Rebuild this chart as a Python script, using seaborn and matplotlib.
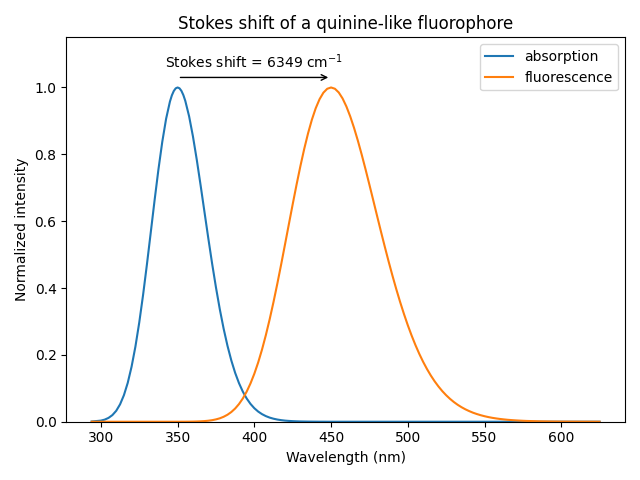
import numpy as np
import pandas as pd
import matplotlib
matplotlib.use("Agg")
import matplotlib.pyplot as plt
import seaborn as sns

# ------------------------------------------------------------
# Spectra (normalized, peak = 1)
# ------------------------------------------------------------
wavelength_nm = [
    294,
    300, 302.5, 305, 307.5, 310, 312.5, 315, 317.5, 320, 322.5,
    325, 327.5, 330, 332.5, 335, 337.5, 340, 342.5, 345, 346.25,
    347.5, 348.75, 350, 351.25, 352.5, 353.75,
    355, 357.5, 360, 362.5, 365, 367.5, 370, 372.5,
    375, 377.5, 380, 382.5, 385, 387.5, 390, 392.5, 395, 397.5,
    400, 402.5, 405, 407.5, 410, 412.5, 415, 417.5, 420, 422.5,
    425, 427.5, 430, 432.5, 435, 437.5, 440, 442.5, 445, 447.5,
    450, 452.5, 455, 457.5, 460, 462.5, 465, 467.5, 470, 472.5,
    475, 477.5, 480, 482.5, 485, 487.5, 490, 492.5, 495, 497.5,
    500, 502.5, 505, 507.5, 510, 512.5, 515, 517.5, 520, 522.5,
    525, 527.5, 530, 532.5, 535, 537.5, 540, 542.5, 545, 547.5,
    550, 552.5, 555, 557.5, 560, 562.5, 565, 567.5, 570, 572.5,
    575, 577.5, 580,
    585, 590, 595, 600, 605, 610, 615, 620, 625,
]

absorption = [
    0.0006,
    0.0033, 0.0063, 0.0115, 0.0198, 0.0327, 0.0520, 0.0793, 0.1163, 0.1646, 0.2247,
    0.2967, 0.3794, 0.4705, 0.5662, 0.6626, 0.7546, 0.8372, 0.9062, 0.9578, 0.9763,
    0.9894, 0.9974, 1.0000, 0.9974, 0.9897, 0.9772,
    0.9601, 0.9136, 0.8535, 0.7834, 0.7070, 0.6278, 0.5489, 0.4728,
    0.4016, 0.3364, 0.2782, 0.2272, 0.1833, 0.1462, 0.1154, 0.0901, 0.0696, 0.0533,
    0.0404, 0.0304, 0.0227, 0.0168, 0.0123, 0.0090, 0.0065, 0.0047, 0.0033, 0.0024,
    0.0017, 0.0012, 0.0008, 0.0006, 0.0004, 0.0003, 0.0002, 0.0001, 0.0001, 0.0,
    0.0, 0.0, 0.0, 0.0, 0.0, 0.0, 0.0, 0.0, 0.0, 0.0,
    0.0, 0.0, 0.0, 0.0, 0.0, 0.0, 0.0, 0.0, 0.0, 0.0,
    0.0, 0.0, 0.0, 0.0, 0.0, 0.0, 0.0, 0.0, 0.0, 0.0,
    0.0, 0.0, 0.0, 0.0, 0.0, 0.0, 0.0, 0.0, 0.0, 0.0,
    0.0, 0.0, 0.0, 0.0, 0.0, 0.0, 0.0, 0.0, 0.0, 0.0,
    0.0, 0.0, 0.0,
    0.0, 0.0, 0.0, 0.0, 0.0, 0.0, 0.0, 0.0, 0.0,
]

fluorescence = [
    0.0,
    0.0, 0.0, 0.0, 0.0, 0.0, 0.0, 0.0, 0.0, 0.0, 0.0,
    0.0, 0.0, 0.0, 0.0, 0.0, 0.0, 0.0, 0.0, 0.0, 0.0,
    0.0, 0.0, 0.0, 0.0, 0.0001, 0.0001,
    0.0001, 0.0002, 0.0004, 0.0007, 0.0012, 0.0019, 0.0030, 0.0046,
    0.0070, 0.0102, 0.0148, 0.0209, 0.0290, 0.0395, 0.0529, 0.0696, 0.0900, 0.1146,
    0.1436, 0.1773, 0.2158, 0.2590, 0.3067, 0.3583, 0.4134, 0.4711, 0.5307, 0.5909,
    0.6507, 0.7089, 0.7644, 0.8160, 0.8627, 0.9036, 0.9379, 0.9649, 0.9844, 0.9961,
    1.0000, 0.9962, 0.9851, 0.9672, 0.9430, 0.9133, 0.8788, 0.8403, 0.7986, 0.7546,
    0.7089, 0.6624, 0.6156, 0.5692, 0.5238, 0.4796, 0.4371, 0.3966, 0.3583, 0.3224,
    0.2888, 0.2578, 0.2292, 0.2030, 0.1792, 0.1577, 0.1383, 0.1209, 0.1054, 0.0915,
    0.0793, 0.0685, 0.0590, 0.0507, 0.0435, 0.0372, 0.0318, 0.0270, 0.0230, 0.0195,
    0.0165, 0.0139, 0.0117, 0.0099, 0.0083, 0.0070, 0.0058, 0.0049, 0.0041, 0.0034,
    0.0028, 0.0023, 0.0020,
    0.0013, 0.0009, 0.0006, 0.0004, 0.0003, 0.0002, 0.0001, 0.0001, 0.0,
]

df = pd.DataFrame({
    "wavelength": wavelength_nm,
    "absorption": absorption,
    "fluorescence": fluorescence,
})

# peak positions -> Stokes shift in wavenumbers
abs_peak = df.loc[df["absorption"].idxmax(), "wavelength"]
fl_peak = df.loc[df["fluorescence"].idxmax(), "wavelength"]
shift_cm = 1e7 / abs_peak - 1e7 / fl_peak

fig, ax = plt.subplots(figsize=(6.4, 4.8), dpi=100)
sns.lineplot(data=df, x="wavelength", y="absorption", label="absorption", ax=ax)
sns.lineplot(data=df, x="wavelength", y="fluorescence", label="fluorescence", ax=ax)

ax.annotate("", xy=(fl_peak, 1.03), xytext=(abs_peak, 1.03),
            arrowprops=dict(arrowstyle="->", color="black"))
ax.text((abs_peak + fl_peak) / 2, 1.048, f"Stokes shift = {shift_cm:.0f} cm$^{{-1}}$",
        ha="center", va="bottom")

ax.set_ylim(0, 1.15)
ax.set_title("Stokes shift of a quinine-like fluorophore")
ax.set_xlabel("Wavelength (nm)")
ax.set_ylabel("Normalized intensity")
ax.legend(loc="upper right")
plt.tight_layout()
plt.savefig("out.png", dpi=100)
plt.close()
